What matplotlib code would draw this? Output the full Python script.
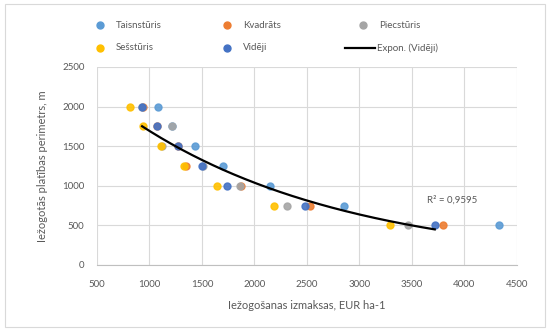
import numpy as np
import matplotlib
matplotlib.use("Agg")
import matplotlib.pyplot as plt
from matplotlib.lines import Line2D
from matplotlib.patches import Rectangle

plt.rcParams['font.family'] = ['Lato', 'DejaVu Sans']

# Data: perimeter (m) vs fencing costs (EUR/ha) for each shape
perimeters = [2000, 1750, 1500, 1250, 1000, 750, 500]
series_names = ["Taisnstūris", "Kvadrāts", "Piecstūris", "Sešstūris", "Vidēji"]
taisnsturis = [1085, 1215, 1430, 1700, 2150, 2850, 4330]
kvadrats = [935, 1070, 1270, 1350, 1870, 2530, 3800]
piecsturis = [930, 1215, 1120, 1510, 1860, 2310, 3460]
sesturis = [815, 935, 1110, 1330, 1640, 2190, 3290]
videji = [930, 1070, 1270, 1500, 1740, 2480, 3720]
trend_name = "Expon. (Vidēji)"
r2_label = "R² = 0,9595"
x_ticks = [500, 1000, 1500, 2000, 2500, 3000, 3500, 4000, 4500]
y_ticks = [0, 500, 1000, 1500, 2000, 2500]
x_title = "Iežogošanas izmaksas, EUR ha-1"
y_title = "Iežogotās platības perimetrs, m"

colors = ["#5B9BD5", "#ED7D31", "#A5A5A5", "#FFC000", "#4472C4"]
text_color = "#595959"

W, H = 548, 329
fig = plt.figure(figsize=(W / 100, H / 100), dpi=100)
ax = fig.add_axes([97 / W, 1 - 265 / H, (516.6 - 97) / W, (265 - 67) / H])

all_series = [taisnsturis, kvadrats, piecsturis, sesturis, videji]
for name, xs, c in zip(series_names, all_series, colors):
    ax.plot(xs, perimeters, linestyle="none", marker="o", markersize=5,
            markerfacecolor=c, markeredgecolor=c, alpha=0.9, zorder=3)

# exponential trendline fitted to the average series (Excel style: log-linear LSQ)
xv = np.array(videji, dtype=float)
yv = np.array(perimeters, dtype=float)
b, lna = np.polyfit(xv, np.log(yv), 1)
xx = np.linspace(xv.min(), xv.max(), 200)
ax.plot(xx, np.exp(lna + b * xx), color="black", linewidth=1.6, zorder=4)
ax.text(3650, 815, r2_label, color=text_color, fontsize=7, ha="left", va="center")

ax.set_xlim(500, 4500)
ax.set_ylim(0, 2500)
ax.set_xticks(x_ticks)
ax.set_yticks(y_ticks)
ax.grid(True, color="#D9D9D9", linewidth=0.8, zorder=0)
ax.set_axisbelow(True)
for s in ["top", "right", "left"]:
    ax.spines[s].set_visible(False)
ax.spines["bottom"].set_color("#BFBFBF")
ax.tick_params(axis="both", length=0, labelsize=7, labelcolor=text_color)
ax.tick_params(axis="x", pad=11)
ax.tick_params(axis="y", pad=9)
ax.set_xlabel(x_title, fontsize=8, color=text_color, labelpad=8)
ax.set_ylabel(y_title, fontsize=8, color=text_color, labelpad=10)

# legend (manual layout, figure pixel coords)
def fx(px):
    return px / W

def fy(py):
    return 1 - py / H

leg_pos = [(100, 25), (227, 25), (363, 25), (100, 48), (227, 48)]
for (px, py), name, c in zip(leg_pos, series_names, colors):
    fig.add_artist(Line2D([fx(px)], [fy(py)], marker="o", markersize=5,
                          markerfacecolor=c, markeredgecolor=c, linestyle="none"))
    fig.text(fx(px + 16), fy(py), name, fontsize=7, color=text_color, va="center", ha="left")
fig.add_artist(Line2D([fx(345), fx(375)], [fy(48), fy(48)], color="black", linewidth=1.6))
fig.text(fx(377), fy(48), trend_name, fontsize=7, color=text_color, va="center", ha="left")

# chart area border
fig.add_artist(Rectangle((fx(5), fy(327)), fx(545) - fx(5), fy(4) - fy(327),
                         transform=fig.transFigure, fill=False, edgecolor="#D9D9D9", linewidth=0.8))

fig.savefig("out.png", dpi=100)
